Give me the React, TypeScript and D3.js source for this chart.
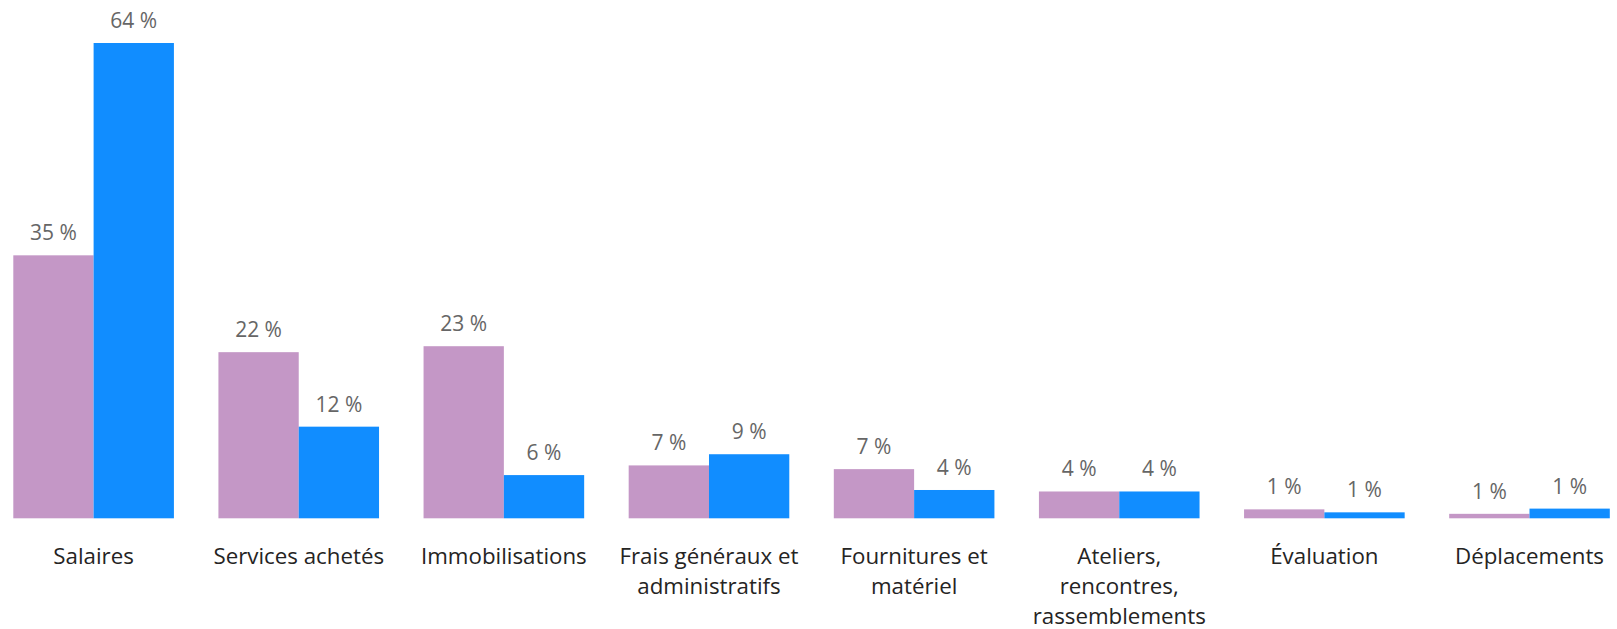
import React, { useRef, useEffect } from 'react';
import * as d3 from 'd3';

// categories (\n marks where the axis label wraps)
const categories = [
  'Salaires',
  'Services achetés',
  'Immobilisations',
  'Frais généraux et\nadministratifs',
  'Fournitures et\nmatériel',
  'Ateliers,\nrencontres,\nrassemblements',
  'Évaluation',
  'Déplacements',
];

// two series (labels are rounded)
const seriesA = [35.3, 22.3, 23.1, 7.1, 6.6, 3.6, 1.2, 0.6];
const seriesB = [63.8, 12.3, 5.8, 8.6, 3.8, 3.6, 0.8, 1.3];

const colors = ['#C497C6', '#118DFF'];

const W = 1617;
const H = 629;

function App() {
  const svgRef = useRef<SVGSVGElement>(null);

  useEffect(() => {
    const svg = d3.select(svgRef.current);
    svg.selectAll('*').remove();

    const baseline = 518.3;

    const x = d3.scaleBand()
      .domain(categories)
      .range([13.3, 1609.8])
      .paddingInner(0.217)
      .paddingOuter(0);

    const inner = d3.scaleBand()
      .domain(['a', 'b'])
      .range([0, x.bandwidth()]);

    const y = d3.scaleLinear()
      .domain([0, d3.max(seriesB) as number])
      .range([baseline, 43]);

    const rows = categories.map((c, i) => ({ c, a: seriesA[i], b: seriesB[i] }));

    const g = svg.selectAll('g.grp')
      .data(rows)
      .join('g')
      .attr('class', 'grp')
      .attr('transform', d => `translate(${x(d.c)},0)`);

    const bars = g.selectAll('g.bar')
      .data(d => [{ k: 'a', v: d.a }, { k: 'b', v: d.b }])
      .join('g')
      .attr('class', 'bar');

    bars.append('rect')
      .attr('x', d => inner(d.k) as number)
      .attr('width', inner.bandwidth())
      .attr('y', d => y(d.v))
      .attr('height', d => baseline - y(d.v))
      .attr('fill', (d, i) => colors[i]);

    bars.append('text')
      .attr('x', d => (inner(d.k) as number) + inner.bandwidth() / 2)
      .attr('y', d => y(d.v) - 15)
      .attr('text-anchor', 'middle')
      .attr('font-family', '"Open Sans", sans-serif')
      .attr('font-size', 21)
      .attr('fill', '#666666')
      .text(d => `${Math.round(d.v)}\u00a0%`);

    // category axis labels, no axis line
    const lab = g.append('text')
      .attr('text-anchor', 'middle')
      .attr('font-family', '"Open Sans", sans-serif')
      .attr('font-size', 22.3)
      .attr('fill', '#252423');

    lab.selectAll('tspan')
      .data(d => d.c.split('\n'))
      .join('tspan')
      .attr('x', x.bandwidth() / 2)
      .attr('y', (d, i) => 564 + i * 30)
      .text(d => d);
  }, []);

  return (
    <svg
      ref={svgRef}
      width={W}
      height={H}
      style={{ position: 'absolute', left: 0, top: 0, background: '#fff' }}
    />
  );
}

export default App;
